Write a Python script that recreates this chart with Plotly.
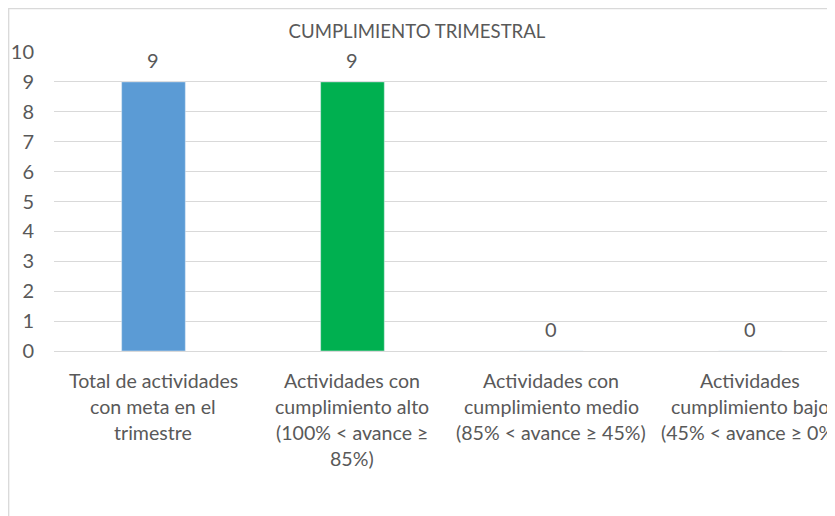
import plotly.graph_objects as go

# data
categories = [
    "Total de actividades<br>con meta en el<br>trimestre",
    "Actividades con<br>cumplimiento alto<br>(100% < avance ≥<br>85%)",
    "Actividades con<br>cumplimiento medio<br>(85% < avance ≥ 45%)",
    "Actividades<br>cumplimiento bajo<br>(45% < avance ≥ 0%)",
]
values = [9, 9, 0, 0]
bar_colors = ["#5B9BD5", "#00B050", "#FFC000", "#C00000"]
y_ticks = list(range(0, 11))

FONT = "Lato"
TEXT_COLOR = "#595959"
GRID = "#D9D9D9"

# the page has an 8px body margin, so the figure fills what is left of the window
W, H = 827, 508
ML, MT = 46, 44
plot_h = 299
MB = H - MT - plot_h
plot_w = W - ML

x_pos = list(range(len(categories)))

fig = go.Figure()
fig.add_trace(
    go.Bar(
        x=x_pos,
        y=values,
        marker_color=bar_colors,
        width=0.32,
        hoverinfo="skip",
    )
)

# value labels above the bars
for xi, v in zip(x_pos, values):
    fig.add_annotation(
        x=xi, y=v, text=str(v), showarrow=False, yshift=22,
        font=dict(family=FONT, size=20, color=TEXT_COLOR),
    )

# category labels, one annotation per line so the line spacing matches
for xi, label in zip(x_pos, categories):
    for i, line in enumerate(label.split("<br>")):
        fig.add_annotation(
            x=xi, y=0, text=line, showarrow=False, yshift=-29 - 26 * i,
            font=dict(family=FONT, size=19.6, color=TEXT_COLOR),
        )

# chart-area border (cropped on the right and bottom)
fig.add_shape(
    type="rect", xref="paper", yref="paper",
    x0=-(ML - 0.7) / plot_w, x1=1.05,
    y0=-0.7, y1=1 + (MT - 0.7) / plot_h,
    line=dict(color=GRID, width=1.3), layer="below",
)

fig.update_layout(
    width=W,
    height=H,
    margin=dict(l=ML, r=0, t=MT, b=MB),
    paper_bgcolor="white",
    plot_bgcolor="white",
    showlegend=False,
    title=dict(
        text="CUMPLIMIENTO TRIMESTRAL",
        x=(417 - 8) / W, xref="container", xanchor="center",
        y=1 - 23 / H, yanchor="middle",
        font=dict(family=FONT, size=18.6, color=TEXT_COLOR),
    ),
    font=dict(family=FONT, color=TEXT_COLOR),
)
fig.update_xaxes(
    range=[-0.5, 3.425],
    showticklabels=False,
    showgrid=False,
    zeroline=False,
    showline=False,
    automargin=False,
)
fig.update_yaxes(
    range=[0, 10],
    tickvals=y_ticks,
    showgrid=True,
    gridcolor=GRID,
    gridwidth=1.3,
    zeroline=True,
    zerolinecolor=GRID,
    zerolinewidth=1.3,
    ticklabelstandoff=19,
    automargin=False,
    tickfont=dict(family=FONT, size=20, color=TEXT_COLOR),
)

fig.write_html("out.html")
